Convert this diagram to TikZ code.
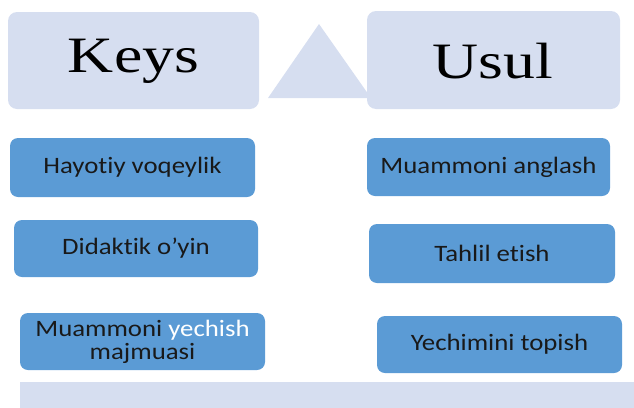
\documentclass[tikz,border=0pt]{standalone}
\usepackage{fontspec}
\setmainfont{Carlito}[Ligatures=NoCommon]
\newfontfamily\keysfont{Liberation Serif}
\definecolor{lightbox}{RGB}{214,222,240}
\definecolor{bluebox}{RGB}{91,155,213}
\definecolor{txt}{RGB}{25,25,25}
\begin{document}
\begin{tikzpicture}[x=1pt,y=-1pt,
  headbox/.style={fill=lightbox,rounded corners=9pt},
  bluebox/.style={fill=bluebox,rounded corners=8pt},
  headtxt/.style={font=\keysfont\fontsize{51}{55}\selectfont,text=black,inner sep=0pt},
  bodytxt/.style={font=\fontsize{23.5}{23}\selectfont,text=txt,inner sep=0pt,align=center}]
\useasboundingbox (0,0) rectangle (634,407);
% triangle (behind boxes)
\fill[lightbox] (319,24) -- (371,98) -- (268,98) -- cycle;
% header boxes
\fill[headbox] (8,12) rectangle (259,109);
\fill[headbox] (367,11) rectangle (620,109);
\node[headtxt] (keys) at (133.5,61) {\scalebox{1.25}[1]{Keys}};
\node[headtxt] (usul) at (493,61) {\scalebox{1.25}[1]{Usul}};
% bottom strip
\fill[lightbox] (20,382) rectangle (640,412);
% blue boxes
\fill[bluebox] (10,138) rectangle (255,197);
\fill[bluebox] (14,220) rectangle (258,277);
\fill[bluebox] (20,313) rectangle (265,370);
\fill[bluebox] (367,138) rectangle (610,196);
\fill[bluebox] (369,224) rectangle (615,283);
\fill[bluebox] (377,316) rectangle (622,373);
\node[bodytxt] (l1) at (132.5,167.5) {\scalebox{1.14}[1]{Hayotiy voqeylik}};
\node[bodytxt] (l2) at (136,248.5) {\scalebox{1.14}[1]{Didaktik o’yin}};
\node[bodytxt] (l3) at (142.5,343) {\scalebox{1.14}[1]{\begin{tabular}{@{}c@{}}Muammoni \textcolor{white}{yechish}\\[0pt]majmuasi\end{tabular}}};
\node[bodytxt] (r1) at (488.5,167) {\scalebox{1.14}[1]{Muammoni anglash}};
\node[bodytxt] (r2) at (492,253.5) {\scalebox{1.14}[1]{Tahlil etish}};
\node[bodytxt] (r3) at (499.5,344.5) {\scalebox{1.14}[1]{Yechimini topish}};
\end{tikzpicture}
\end{document}
